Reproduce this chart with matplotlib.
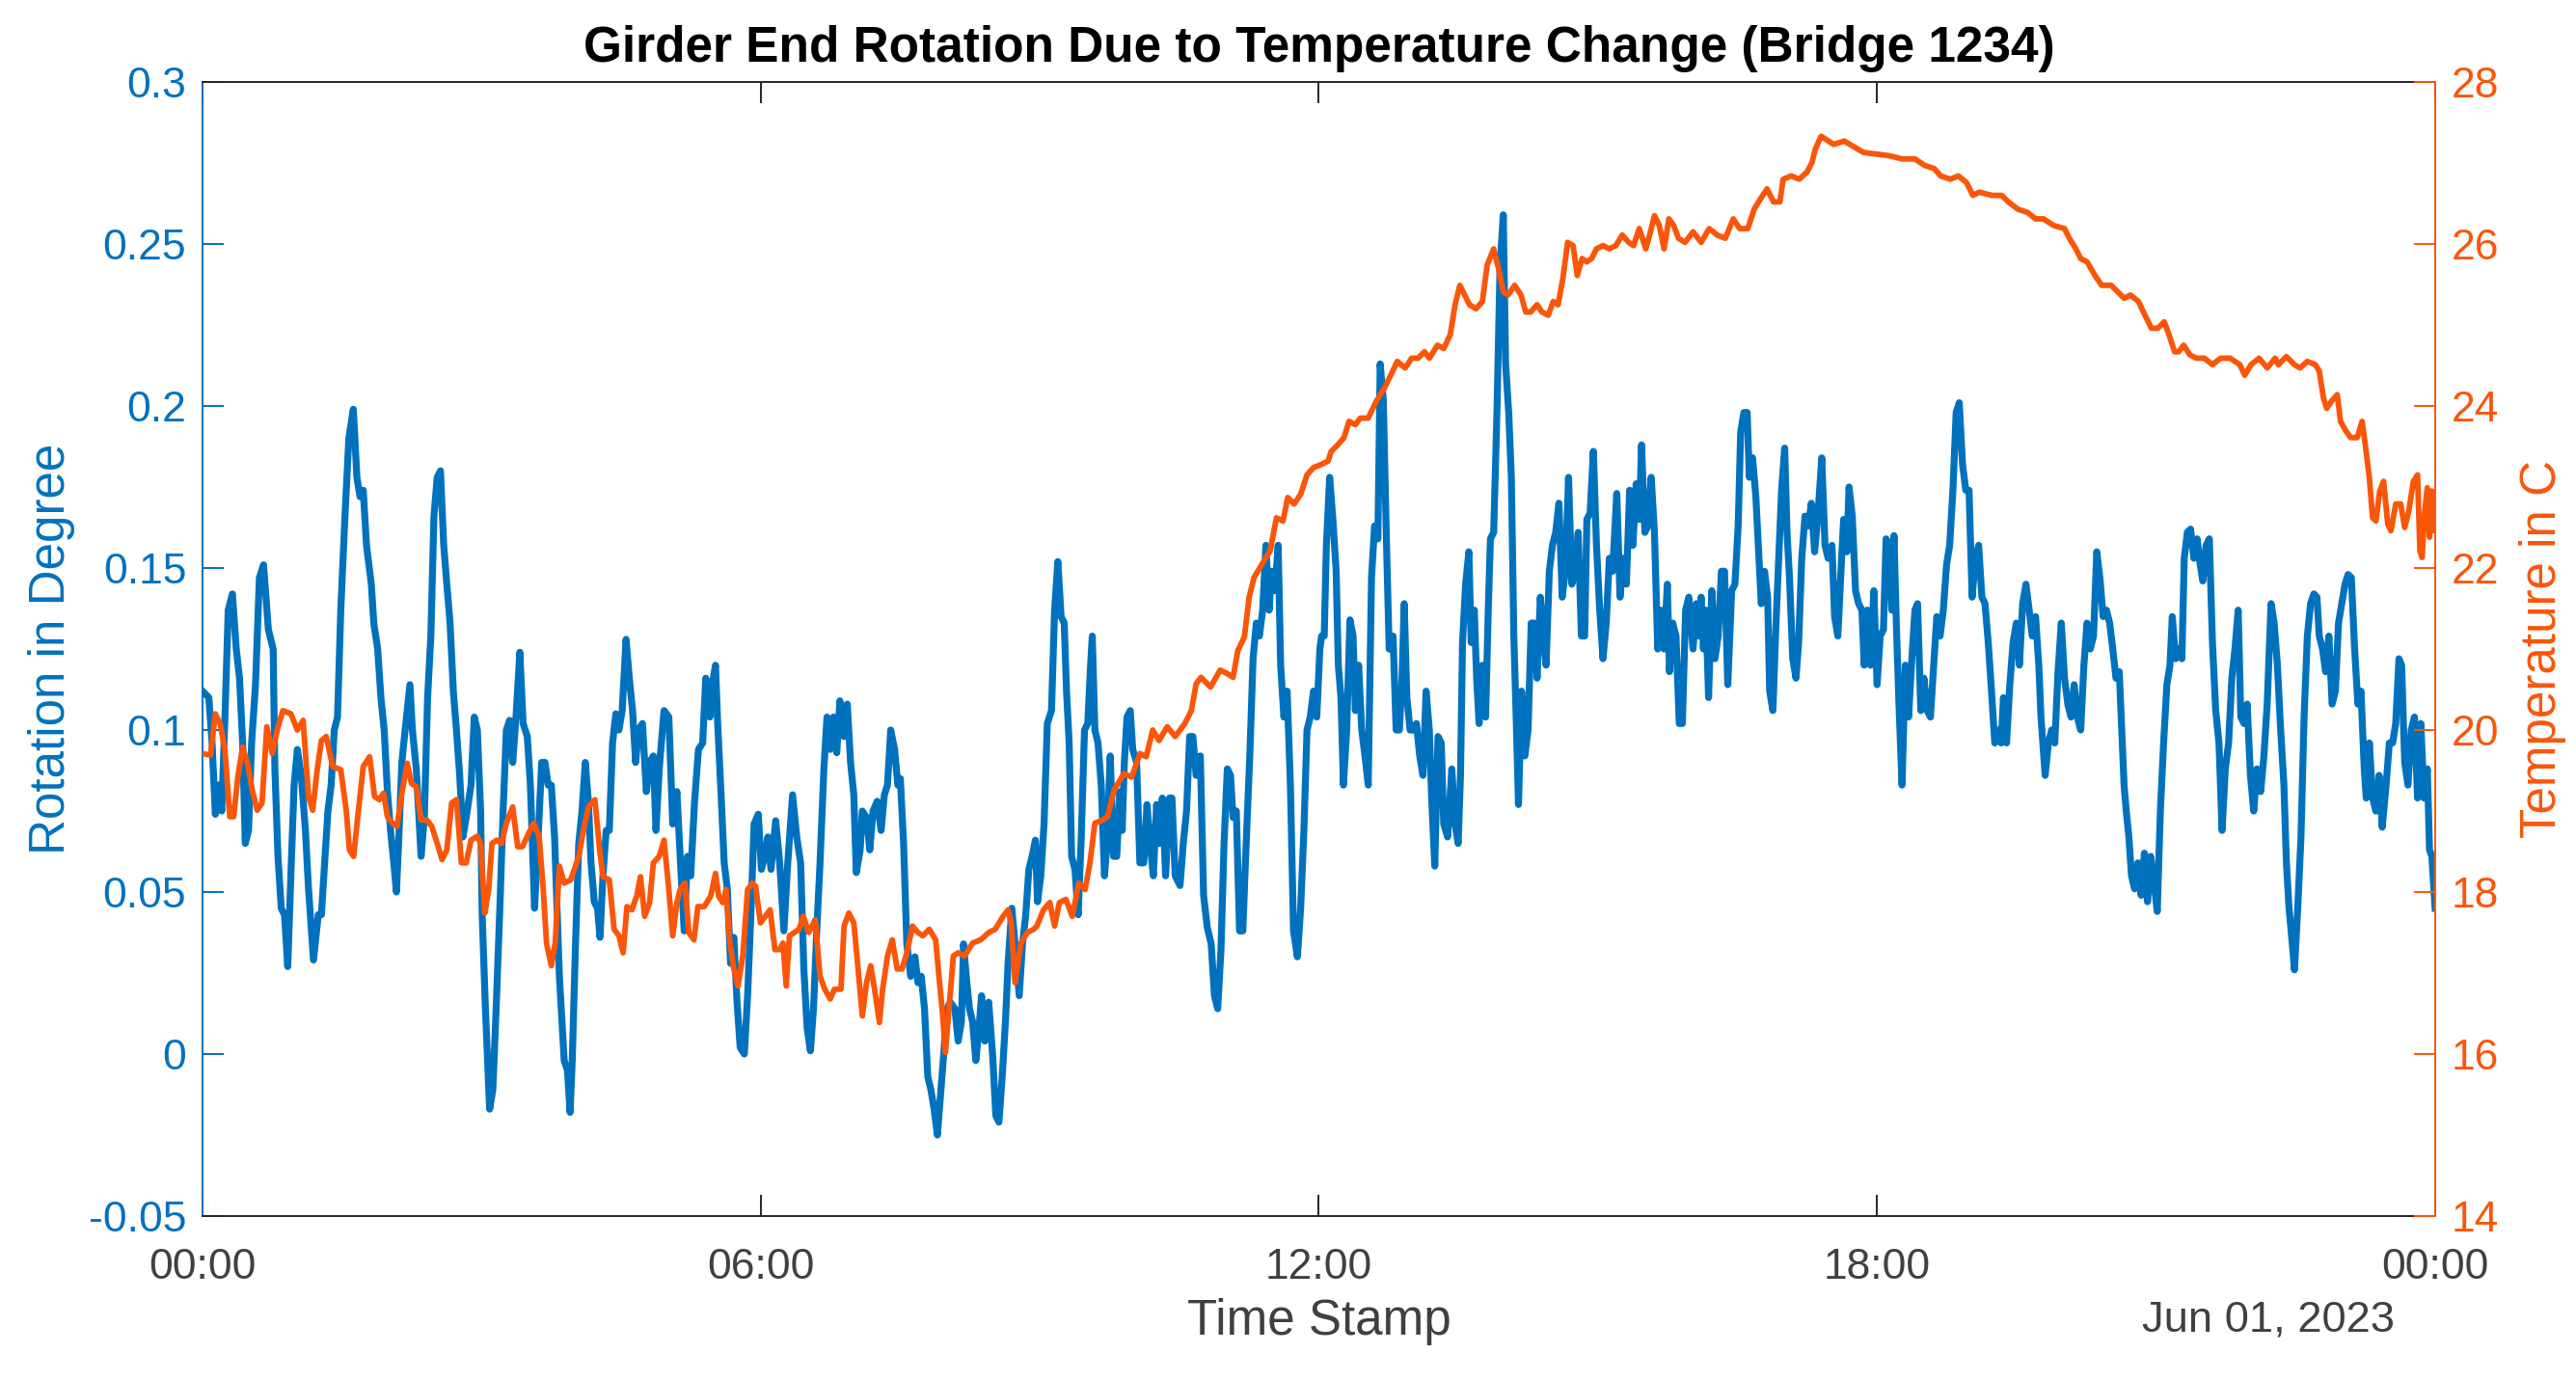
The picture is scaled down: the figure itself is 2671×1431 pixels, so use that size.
import matplotlib
matplotlib.use("Agg")
import matplotlib.pyplot as plt
import matplotlib.dates as mdates
import pandas as pd

plt.rcParams['font.family'] = ['Liberation Sans', 'DejaVu Sans']

# Rotation readings (minutes after midnight, degrees)
rot_minutes = [
    0, 4.1, 6.2, 8.3, 10.4, 12.4, 14.5, 16.6, 19.3, 21.8,
    23.9, 25.9, 27.6, 29.7, 31.7, 34.2, 36.7, 39.4, 42.5, 45.6,
    46.7, 48.7, 50.8, 52.9, 55.0, 57.0, 59.1, 61.2, 63.7, 66.4,
    68.4, 71.6, 74.7, 76.7, 78.8, 80.9, 83.0, 85.0, 87.1, 89.2,
    91.9, 94.4, 97.3, 99.6, 101.6, 103.7, 105.8, 108.9, 110.5, 113.0,
    115.1, 117.2, 119.3, 121.3, 123.4, 125.1, 126.5, 128.6, 130.7, 133.8,
    135.4, 137.9, 141.0, 143.1, 145.2, 147.3, 149.3, 151.4, 153.5, 155.6,
    157.6, 159.7, 161.8, 163.8, 165.9, 168.0, 170.1, 173.2, 175.3, 177.3,
    179.4, 180.4, 182.5, 185.2, 187.3, 189.4, 191.8, 193.9, 196.0, 198.1,
    200.1, 202.2, 204.7, 206.8, 209.5, 211.5, 214.2, 216.3, 218.8, 220.9,
    223.0, 225.0, 227.1, 230.2, 233.3, 235.4, 237.1, 238.5, 240.6, 242.7,
    244.8, 246.9, 248.9, 250.6, 252.7, 254.8, 256.4, 258.3, 260.4, 262.4,
    264.5, 266.6, 268.6, 270.7, 273.2, 275.3, 277.4, 279.4, 281.1, 283.8,
    286.3, 288.4, 290.8, 292.5, 294.6, 297.7, 300.8, 303.3, 306.0, 308.1,
    310.7, 312.8, 314.9, 317.4, 319.9, 322.6, 324.6, 327.3, 328.8, 330.9,
    332.3, 334.4, 336.5, 338.5, 340.6, 342.7, 344.8, 346.8, 349.5, 351.6,
    353.7, 355.8, 358.5, 360.5, 362.6, 364.7, 366.7, 369.7, 372.3, 375.0,
    377.5, 380.6, 383.3, 385.8, 387.9, 390.0, 392.1, 394.1, 396.2, 398.3,
    400.8, 402.8, 404.9, 407.0, 409.1, 411.1, 413.8, 415.9, 418.0, 420.1,
    421.7, 424.2, 425.6, 428.3, 430.4, 432.5, 435.2, 437.7, 439.8, 441.8,
    443.9, 446.4, 448.5, 450.1, 452.2, 454.3, 456.8, 459.5, 461.5, 463.6,
    465.7, 467.8, 469.8, 471.9, 474.0, 476.0, 478.1, 480.2, 482.3,
    485.3, 487.4, 489.5, 490.9, 492.6, 494.7, 496.7, 498.8, 500.5, 502.5,
    504.6, 507.1, 509.6, 511.7, 513.7, 515.8, 517.9, 519.6, 522.0, 524.1,
    526.8, 528.9, 531.0, 533.0, 535.1, 537.2, 538.6, 540.7, 542.8, 544.9,
    547.6, 549.6, 551.7, 553.8, 555.8, 557.3, 559.0, 560.6, 562.7, 564.8,
    566.8, 568.9, 571.0, 572.6, 573.9, 575.6, 577.6, 579.7, 581.8, 583.4,
    585.5, 587.6, 589.7, 591.7, 593.2, 594.6, 596.3, 598.4, 600.0, 602.5,
    604.6, 607.1, 609.2, 611.2, 613.3, 615.4, 617.4, 619.1, 621.2, 623.7,
    625.3, 627.4, 630.5, 632.6, 634.7, 636.7, 638.8, 640.9, 643.6, 645.7,
    648.1, 650.6, 652.7, 654.8, 656.9, 658.9, 661.0, 663.1, 664.7, 666.8,
    668.9, 671.0, 673.0, 675.5, 677.6, 679.7, 681.7, 683.8, 685.9, 688.0,
    689.6, 691.7, 693.8, 695.4, 697.5, 699.6, 701.7, 703.7, 706.2, 708.3,
    710.4, 712.4, 714.5, 716.6, 718.7, 720.7, 721.8,
    723.5, 724.9, 727.0, 729.1, 731.2, 732.6, 734.3, 735.9, 738.0, 740.1,
    742.1, 743.6, 745.7, 747.7, 749.8, 751.9, 754.0, 756.0, 758.1, 759.6,
    761.6, 763.7, 765.4, 767.9, 769.9, 772.0, 773.7, 775.1, 776.8, 778.9,
    780.9, 783.0, 785.1, 787.2, 789.2, 791.3, 792.8, 794.8, 796.9, 799.0,
    800.6, 803.1, 805.8, 807.9, 809.9, 811.4, 812.7, 814.7, 816.8, 818.3,
    820.3, 821.8, 823.4, 825.5, 827.6, 829.3, 830.7, 832.8, 834.9, 836.9,
    839.0, 840.5, 842.5, 844.2, 845.8, 847.3, 848.8, 850.8, 852.9, 855.0,
    857.0, 859.1, 860.8, 862.9, 864.9, 866.6, 868.7, 870.7, 872.8, 874.9,
    877.0, 879.0, 881.1, 883.2, 885.3, 887.3, 889.4, 891.5, 892.9, 895.0,
    897.1, 899.1, 901.2, 903.3, 905.4, 907.4, 909.5, 912.2, 914.3, 916.4,
    918.4, 920.5, 922.6, 924.7, 926.7, 928.2, 930.3, 932.3, 934.4, 936.5,
    938.6, 940.6, 942.7, 944.8, 946.2, 948.3, 950.4, 952.5, 954.5, 956.6,
    958.7, 961.4,
    963.5, 965.2, 966.6, 968.1, 969.7, 971.4, 973.5, 975.5, 977.6, 979.7,
    981.7, 983.8, 986.3, 988.4, 990.5, 992.1, 994.2, 996.3, 997.7, 999.8,
    1001.9, 1003.9, 1005.4, 1007.5, 1009.5, 1010.8, 1012.9, 1014.9, 1017.0, 1018.5,
    1020.5, 1022.0, 1023.6, 1025.7, 1027.8, 1029.5, 1031.5, 1033.6, 1035.7, 1037.7,
    1039.8, 1041.9, 1044.4, 1046.5, 1048.5, 1051.0, 1052.7, 1054.8, 1056.8, 1058.5,
    1060.6, 1062.0, 1064.1, 1066.2, 1068.2, 1070.3, 1071.8, 1073.8, 1075.9, 1078.0,
    1080.1, 1082.1, 1084.2, 1085.9, 1087.9, 1089.6, 1091.0, 1092.5, 1094.2, 1096.2,
    1098.3, 1100.4, 1102.5, 1104.5, 1106.2, 1108.3, 1110.3, 1112.4, 1114.5, 1116.6,
    1118.6, 1120.7, 1122.8, 1124.9, 1126.9, 1129.0, 1131.1, 1133.1, 1135.2, 1137.3,
    1139.4, 1141.4, 1143.5, 1145.6, 1147.7, 1149.7, 1151.8, 1153.9, 1156.0, 1158.0,
    1160.1, 1161.6, 1163.6, 1165.7, 1167.8, 1169.9, 1171.9, 1174.0, 1176.1, 1178.2,
    1180.2, 1182.3, 1184.4, 1185.8, 1188.5, 1190.6, 1192.7, 1194.7, 1196.8, 1198.9,
    1201.0,
    1203.1, 1205.2, 1207.2, 1209.3, 1211.4, 1213.5, 1215.5, 1217.6, 1219.7, 1221.8,
    1223.8, 1225.9, 1228.0, 1230.1, 1232.1, 1234.2, 1236.3, 1237.9, 1239.4, 1240.8,
    1242.5, 1244.2, 1246.2, 1248.3, 1250.4, 1252.5, 1254.5, 1256.6, 1258.7, 1260.8,
    1262.8, 1264.9, 1267.0, 1269.0, 1270.5, 1272.6, 1274.6, 1276.7, 1278.2, 1280.2,
    1282.3, 1284.4, 1286.5, 1288.5, 1290.2, 1292.3, 1294.4, 1296.4, 1298.5, 1300.6,
    1302.6, 1304.7, 1306.8, 1308.9, 1310.9, 1313.0, 1314.7, 1316.8, 1318.8, 1320.9,
    1323.0, 1325.1, 1327.5, 1329.6, 1331.7, 1334.2, 1336.2, 1338.3, 1340.4, 1342.5,
    1344.1, 1345.8, 1347.9, 1349.3, 1351.4, 1353.5, 1355.5, 1357.6, 1359.7, 1361.8,
    1363.8, 1365.3, 1367.4, 1369.4, 1371.5, 1373.6, 1375.7, 1377.7, 1379.8, 1381.9,
    1383.9, 1386.0, 1388.1, 1390.2, 1392.2, 1394.3, 1395.6, 1397.6, 1399.7, 1401.8,
    1403.9, 1405.9, 1408.4, 1410.5, 1412.6, 1414.6, 1416.7, 1418.4, 1420.4, 1422.5,
    1424.6, 1426.7, 1428.7, 1430.8, 1432.9, 1435.0, 1436.4, 1437.9, 1440.0,
]
rotation_deg = [
    0.112, 0.110, 0.096, 0.074, 0.083, 0.075, 0.104, 0.137, 0.142, 0.125,
    0.116, 0.096, 0.065, 0.069, 0.096, 0.114, 0.147, 0.151, 0.131, 0.125,
    0.088, 0.061, 0.045, 0.043, 0.027, 0.055, 0.083, 0.094, 0.086, 0.069,
    0.051, 0.029, 0.043, 0.043, 0.059, 0.075, 0.083, 0.100, 0.104, 0.137,
    0.166, 0.190, 0.199, 0.178, 0.172, 0.174, 0.157, 0.145, 0.133, 0.125,
    0.110, 0.100, 0.081, 0.069, 0.059, 0.050, 0.065, 0.090, 0.100, 0.114,
    0.100, 0.088, 0.061, 0.073, 0.110, 0.129, 0.166, 0.178, 0.180, 0.157,
    0.145, 0.133, 0.112, 0.100, 0.086, 0.067, 0.073, 0.083, 0.104, 0.100,
    0.075, 0.043, 0.014, -0.017, -0.011, 0.014, 0.045, 0.075, 0.100, 0.103,
    0.090, 0.104, 0.124, 0.102, 0.098, 0.083, 0.045, 0.065, 0.090, 0.090,
    0.083, 0.083, 0.067, 0.024, -0.002, -0.005, -0.018, -0.002, 0.034, 0.065,
    0.075, 0.090, 0.078, 0.059, 0.047, 0.045, 0.036, 0.055, 0.069, 0.069,
    0.096, 0.105, 0.100, 0.106, 0.128, 0.116, 0.106, 0.090, 0.100, 0.102,
    0.081, 0.090, 0.092, 0.069, 0.088, 0.106, 0.104, 0.071, 0.081, 0.061,
    0.038, 0.061, 0.055, 0.078, 0.094, 0.096, 0.116, 0.104, 0.114, 0.120,
    0.102, 0.081, 0.059, 0.051, 0.028, 0.036, 0.016, 0.002, 0.000, 0.018,
    0.043, 0.071, 0.074, 0.057, 0.061, 0.067, 0.057, 0.072, 0.059, 0.038,
    0.059, 0.080, 0.067, 0.059, 0.026, 0.008, 0.001, 0.014, 0.038, 0.059,
    0.088, 0.104, 0.094, 0.104, 0.093, 0.109, 0.098, 0.108, 0.090, 0.080,
    0.056, 0.063, 0.075, 0.073, 0.063, 0.075, 0.078, 0.069, 0.080, 0.083,
    0.100, 0.094, 0.083, 0.085, 0.065, 0.034, 0.024, 0.030, 0.022, 0.024,
    0.014, -0.007, -0.011, -0.017, -0.025, -0.013, 0.000, 0.014, 0.016,
    0.014, 0.004, 0.010, 0.034, 0.024, 0.014, 0.010, -0.002, 0.006, 0.018,
    0.004, 0.016, 0.000, -0.019, -0.021, -0.007, 0.010, 0.028, 0.045, 0.034,
    0.018, 0.034, 0.043, 0.057, 0.061, 0.066, 0.047, 0.055, 0.071, 0.102,
    0.106, 0.137, 0.152, 0.135, 0.133, 0.112, 0.096, 0.061, 0.057, 0.043,
    0.067, 0.100, 0.102, 0.118, 0.129, 0.100, 0.096, 0.083, 0.055, 0.065,
    0.092, 0.061, 0.061, 0.081, 0.069, 0.090, 0.104, 0.106, 0.094, 0.090,
    0.059, 0.059, 0.077, 0.065, 0.055, 0.077, 0.065, 0.079, 0.055, 0.079,
    0.079, 0.055, 0.052, 0.065, 0.075, 0.098, 0.098, 0.086, 0.092, 0.049,
    0.039, 0.034, 0.018, 0.014, 0.032, 0.065, 0.088, 0.086, 0.073, 0.075,
    0.038, 0.038, 0.063, 0.092, 0.122, 0.133, 0.129, 0.137, 0.157, 0.137,
    0.149, 0.143, 0.157, 0.120, 0.104, 0.112, 0.083, 0.038, 0.030, 0.045,
    0.069, 0.100, 0.104, 0.112, 0.104, 0.125, 0.129,
    0.129, 0.157, 0.178, 0.165, 0.149, 0.120, 0.110, 0.083, 0.100, 0.134,
    0.129, 0.106, 0.120, 0.100, 0.092, 0.083, 0.147, 0.163, 0.159, 0.213,
    0.202, 0.157, 0.125, 0.129, 0.100, 0.100, 0.116, 0.139, 0.110, 0.100,
    0.100, 0.102, 0.092, 0.086, 0.112, 0.100, 0.079, 0.058, 0.098, 0.096,
    0.071, 0.067, 0.088, 0.071, 0.065, 0.086, 0.127, 0.145, 0.155, 0.127,
    0.137, 0.116, 0.102, 0.120, 0.104, 0.137, 0.159, 0.161, 0.198, 0.243,
    0.259, 0.213, 0.198, 0.178, 0.129, 0.104, 0.077, 0.112, 0.092, 0.100,
    0.133, 0.133, 0.116, 0.141, 0.129, 0.120, 0.149, 0.157, 0.161, 0.170,
    0.141, 0.149, 0.178, 0.145, 0.149, 0.161, 0.129, 0.129, 0.165, 0.167,
    0.186, 0.157, 0.137, 0.122, 0.133, 0.153, 0.149, 0.173, 0.141, 0.153,
    0.145, 0.174, 0.157, 0.176, 0.165, 0.188, 0.161, 0.163, 0.178, 0.161,
    0.125, 0.137, 0.125, 0.145, 0.118, 0.133, 0.129, 0.102, 0.102, 0.137,
    0.141, 0.125,
    0.139, 0.129, 0.141, 0.125, 0.137, 0.110, 0.143, 0.122, 0.129, 0.149,
    0.149, 0.114, 0.143, 0.145, 0.163, 0.192, 0.198, 0.198, 0.178, 0.184,
    0.172, 0.153, 0.139, 0.149, 0.141, 0.112, 0.106, 0.133, 0.157, 0.174,
    0.187, 0.161, 0.147, 0.122, 0.116, 0.127, 0.153, 0.166, 0.163, 0.170,
    0.155, 0.166, 0.184, 0.157, 0.153, 0.157, 0.135, 0.129, 0.149, 0.165,
    0.155, 0.175, 0.166, 0.143, 0.139, 0.137, 0.120, 0.137, 0.120, 0.143,
    0.114, 0.129, 0.131, 0.159, 0.157, 0.137, 0.160, 0.133, 0.108, 0.083,
    0.120, 0.104, 0.122, 0.137, 0.139, 0.106, 0.116, 0.106, 0.104, 0.120,
    0.135, 0.129, 0.137, 0.151, 0.157, 0.174, 0.198, 0.201, 0.182, 0.174,
    0.174, 0.141, 0.153, 0.157, 0.141, 0.139, 0.127, 0.112, 0.096, 0.100,
    0.096, 0.110, 0.096, 0.114, 0.127, 0.133, 0.120, 0.139, 0.145, 0.137,
    0.129, 0.135, 0.120, 0.104, 0.086, 0.096, 0.100, 0.096, 0.118, 0.133,
    0.116,
    0.108, 0.104, 0.114, 0.104, 0.100, 0.120, 0.133, 0.125, 0.129, 0.155,
    0.147, 0.135, 0.137, 0.133, 0.125, 0.116, 0.118, 0.100, 0.083, 0.075,
    0.067, 0.055, 0.051, 0.059, 0.049, 0.062, 0.047, 0.061, 0.053, 0.044,
    0.075, 0.096, 0.114, 0.120, 0.135, 0.122, 0.125, 0.122, 0.153, 0.161,
    0.162, 0.153, 0.159, 0.151, 0.146, 0.157, 0.159, 0.127, 0.106, 0.096,
    0.069, 0.088, 0.096, 0.116, 0.125, 0.137, 0.104, 0.102, 0.108, 0.086,
    0.075, 0.088, 0.081, 0.092, 0.108, 0.139, 0.133, 0.120, 0.100, 0.083,
    0.059, 0.045, 0.034, 0.026, 0.045, 0.067, 0.104, 0.129, 0.139, 0.142,
    0.141, 0.129, 0.125, 0.118, 0.129, 0.108, 0.112, 0.133, 0.139, 0.145,
    0.148, 0.147, 0.125, 0.108, 0.112, 0.088, 0.079, 0.096, 0.079, 0.075,
    0.086, 0.070, 0.083, 0.096, 0.096, 0.102, 0.122, 0.120, 0.090, 0.083,
    0.100, 0.104, 0.079, 0.102, 0.079, 0.088, 0.063, 0.061, 0.045,
]

# Temperature readings (minutes after midnight, deg C)
temp_minutes = [
    0, 5.2, 8.3, 11.4, 14.5, 17.6, 20.1, 22.8, 25.9, 29.0,
    32.1, 35.3, 38.4, 41.5, 45.0, 48.7, 51.9, 57.0, 61.2, 64.9,
    68.4, 71.1, 74.0, 76.7, 79.8, 84.0, 89.2, 92.7, 94.8, 97.5,
    100.6, 103.7, 107.8, 111.0, 114.1, 116.8, 119.3, 122.4, 125.5, 128.6,
    132.1, 134.8, 137.9, 141.0, 144.6, 147.9, 151.4, 154.5, 157.6, 160.7,
    163.8, 167.0, 170.1, 173.2, 177.3, 179.4, 182.1, 184.6, 186.7, 189.8,
    192.9, 196.0, 200.1, 203.3, 206.4, 209.5, 213.6, 217.1, 219.8, 221.9,
    225.0, 227.5, 230.2, 233.3, 237.5, 242.7,
    245.8, 248.9, 253.1, 256.2, 258.3, 262.4, 265.5, 268.6, 271.3, 273.8,
    276.9, 280.1, 282.5, 285.2, 288.4, 290.8, 294.6, 297.7, 300.8, 303.3,
    306.0, 308.1, 311.2, 313.7, 317.0, 319.5, 323.6, 327.8, 330.9, 332.9,
    335.6, 337.7, 340.2, 342.7, 345.4, 348.5, 351.6, 354.7, 356.8, 359.9,
    363.0, 366.1, 369.2, 372.3, 374.4, 376.5, 378.6, 381.7, 384.8, 387.5,
    391.0, 395.2, 398.3, 401.4, 404.9, 407.6, 411.8, 413.8, 416.9, 420.1,
    422.1, 425.6, 428.3, 431.0, 433.5, 436.6, 438.7, 441.8, 444.9, 448.1,
    451.2, 454.3, 458.0, 461.5, 464.6, 468.8, 472.9, 475.0, 477.1, 479.2,
    484.3, 487.4, 491.6, 496.7, 501.9, 507.1, 511.3, 516.4, 519.6, 521.6,
    524.1, 527.9, 532.0, 536.1, 538.2, 542.4, 546.5, 549.6, 552.7, 556.9,
    561.0, 565.2, 569.3, 572.4, 575.6, 580.7, 583.8, 588.0, 594.2, 599.4,
    604.6, 608.7, 612.9, 617.0, 622.2, 627.4, 633.6, 637.8, 640.9, 644.0,
    650.2, 656.4, 661.6, 664.7, 667.8, 672.0, 675.1, 678.2, 683.4, 688.6,
    692.7, 696.9, 700.0, 704.1, 708.3, 712.4, 716.6, 721.8,
    726.0, 728.0, 732.2, 736.3, 739.5, 743.6, 746.7, 751.9, 757.1, 762.3,
    766.4, 770.6, 775.7, 779.9, 784.0, 788.2, 791.3, 796.5, 800.6, 804.8,
    807.9, 811.0, 814.1, 817.2, 821.4, 825.5, 828.6, 832.8, 835.9, 839.0,
    842.1, 846.3, 850.4, 853.5, 856.6, 860.8, 863.9, 868.0, 871.2, 874.3,
    877.4, 880.5, 884.0, 886.7, 889.8, 892.9, 896.0, 899.1, 903.3, 907.4,
    911.6, 915.7, 919.9, 923.0, 926.7, 930.9, 933.4, 936.5, 939.6, 942.7,
    945.8, 948.9, 952.0, 956.2, 961.4,
    966.6, 971.8, 977.0, 982.2, 987.3, 991.5, 996.7, 1000.8, 1005.0, 1009.1,
    1013.3, 1017.4, 1019.5, 1024.7, 1029.9, 1035.0, 1038.2, 1040.2, 1044.0, 1052.0,
    1059.0, 1071.3, 1079.6, 1087.9, 1096.2, 1104.5, 1110.8, 1117.0, 1121.1, 1127.3,
    1132.5, 1137.7, 1141.9, 1146.0, 1154.3, 1160.5, 1164.7, 1170.9, 1177.1, 1182.3,
    1187.5, 1193.7,
    1201.0, 1204.1, 1208.3, 1211.4, 1215.5, 1220.7, 1224.9, 1231.1, 1237.3, 1239.4,
    1243.5, 1248.7, 1252.9, 1257.0, 1261.2, 1265.3, 1268.4, 1272.0, 1274.6, 1277.8,
    1281.9, 1286.1, 1291.2, 1296.4, 1301.6, 1307.8, 1314.1, 1317.2, 1321.3, 1326.5,
    1331.7, 1336.9, 1338.9, 1344.1, 1349.3, 1352.8, 1357.6, 1362.8, 1365.3, 1368.0,
    1370.1, 1373.2, 1376.9, 1379.0, 1382.5, 1385.6, 1389.8, 1392.9, 1395.0, 1397.6,
    1399.7, 1401.8, 1404.3, 1406.8, 1409.5, 1411.5, 1414.6, 1417.8, 1420.4, 1423.0,
    1426.0, 1428.7, 1430.2, 1431.6, 1433.3, 1435.0, 1436.4, 1437.9, 1439.1, 1440.0,
]
temperature_c = [
    19.71, 19.69, 20.20, 20.08, 19.75, 18.93, 18.93, 19.42, 19.79, 19.59,
    19.26, 19.01, 19.10, 20.04, 19.71, 20.04, 20.24, 20.20, 20.00, 20.12,
    19.18, 19.01, 19.51, 19.87, 19.92, 19.55, 19.51, 19.01, 18.52, 18.44,
    19.01, 19.55, 19.67, 19.18, 19.14, 19.22, 18.93, 18.85, 18.81, 19.22,
    19.59, 19.34, 19.30, 18.89, 18.89, 18.81, 18.60, 18.40, 18.52, 19.10,
    19.14, 18.36, 18.36, 18.64, 18.69, 18.60, 17.74, 18.03, 18.60, 18.64,
    18.60, 18.85, 19.05, 18.56, 18.56, 18.69, 18.85, 18.69, 18.03, 17.37,
    17.09, 17.37, 18.32, 18.11, 18.15, 18.44,
    18.77, 19.05, 19.14, 18.52, 18.19, 18.15, 17.54, 17.46, 17.25, 17.82,
    17.78, 17.95, 18.19, 17.70, 17.87, 18.36, 18.44, 18.64, 18.03, 17.46,
    17.87, 18.03, 18.11, 17.50, 17.41, 17.82, 17.82, 17.95, 18.23, 17.95,
    17.87, 18.03, 17.37, 17.05, 16.84, 17.21, 18.03, 18.11, 18.07, 17.62,
    17.70, 17.78, 17.29, 17.29, 17.37, 16.84, 17.46, 17.50, 17.54, 17.70,
    17.50, 17.66, 16.96, 16.80, 16.68, 16.80, 16.80, 17.58, 17.74, 17.62,
    17.21, 16.47, 16.88, 17.09, 16.80, 16.39, 16.80, 17.21, 17.41, 17.05,
    17.05, 17.25, 17.58, 17.50, 17.46, 17.54, 17.41, 16.96, 16.55, 16.02,
    17.21, 17.25, 17.21, 17.37, 17.41, 17.50, 17.54, 17.70, 17.78, 17.62,
    16.88, 17.37, 17.50, 17.54, 17.58, 17.78, 17.87, 17.58, 17.87, 17.91,
    17.70, 18.11, 18.03, 18.36, 18.85, 18.89, 18.93, 19.26, 19.46, 19.42,
    19.71, 19.67, 20.00, 19.87, 20.04, 19.92, 20.08, 20.24, 20.57, 20.65,
    20.53, 20.74, 20.69, 20.65, 20.98, 21.15, 21.64, 21.88, 22.05, 22.21,
    22.62, 22.58, 22.87, 22.79, 22.91, 23.15, 23.24, 23.28,
    23.32, 23.44, 23.52, 23.61, 23.81, 23.77, 23.85, 23.85, 24.06, 24.22,
    24.38, 24.55, 24.47, 24.59, 24.59, 24.67, 24.59, 24.75, 24.71, 24.88,
    25.25, 25.49, 25.37, 25.25, 25.20, 25.29, 25.74, 25.94, 25.70, 25.41,
    25.37, 25.49, 25.37, 25.16, 25.16, 25.25, 25.16, 25.12, 25.29, 25.25,
    25.57, 26.02, 25.98, 25.61, 25.82, 25.78, 25.82, 25.94, 25.98, 25.94,
    25.98, 26.11, 26.02, 25.98, 26.19, 25.94, 26.11, 26.35, 26.23, 25.94,
    26.31, 26.23, 26.07, 26.02, 26.15,
    26.02, 26.19, 26.11, 26.07, 26.31, 26.19, 26.19, 26.43, 26.56, 26.68,
    26.52, 26.52, 26.80, 26.84, 26.80, 26.89, 27.01, 27.17, 27.33, 27.23,
    27.27, 27.13, 27.11, 27.09, 27.05, 27.05, 26.97, 26.93, 26.84, 26.80,
    26.84, 26.76, 26.60, 26.64, 26.60, 26.60, 26.52, 26.43, 26.39, 26.31,
    26.31, 26.23,
    26.19, 26.07, 25.94, 25.82, 25.78, 25.61, 25.49, 25.49, 25.37, 25.33,
    25.37, 25.29, 25.12, 24.96, 24.96, 25.04, 24.88, 24.67, 24.67, 24.75,
    24.63, 24.59, 24.59, 24.51, 24.59, 24.59, 24.51, 24.38, 24.51, 24.59,
    24.47, 24.59, 24.51, 24.61, 24.51, 24.47, 24.55, 24.51, 24.43, 24.10,
    23.97, 24.06, 24.14, 23.81, 23.69, 23.61, 23.61, 23.81, 23.52, 23.11,
    22.62, 22.58, 22.95, 23.07, 22.54, 22.46, 22.79, 22.79, 22.50, 22.70,
    23.07, 23.15, 22.21, 22.13, 22.70, 22.99, 22.38, 22.95, 22.46, 22.87,
]

rot_ticks = [-0.05, 0, 0.05, 0.1, 0.15, 0.2, 0.25, 0.3]
rot_labels = ['-0.05', '0', '0.05', '0.1', '0.15', '0.2', '0.25', '0.3']
temp_ticks = [14, 16, 18, 20, 22, 24, 26, 28]

BLUE = '#0072BD'
ORANGE = '#FA560A'
AXC = '#262626'
TXT = '#404040'

day = pd.Timestamp('2023-06-01')
t_rot = day + pd.to_timedelta(rot_minutes, unit='min')
t_temp = day + pd.to_timedelta(temp_minutes, unit='min')

fig = plt.figure(figsize=(13.355, 7.155), dpi=200)
ax = fig.add_axes([0.0786, 0.1188, 0.8667, 0.8218])
ax.plot(t_rot, rotation_deg, color=BLUE, lw=2.6)
ax.set_ylim(-0.05, 0.3)
ax.set_yticks(rot_ticks)
ax.set_yticklabels(rot_labels)

ax2 = ax.twinx()
ax2.plot(t_temp, temperature_c, color=ORANGE, lw=2.1)
ax2.set_ylim(14, 28)
ax2.set_yticks(temp_ticks)

ax.set_xlim(day, day + pd.Timedelta(days=1))
ax.set_xticks([day + pd.Timedelta(hours=h) for h in (0, 6, 12, 18, 24)])
ax.xaxis.set_major_formatter(mdates.DateFormatter('%H:%M'))

# ejes estilo MATLAB
for a in (ax, ax2):
    for s in a.spines.values():
        s.set_linewidth(0.7)
ax.spines['left'].set_color(BLUE)
ax.spines['top'].set_color(AXC)
ax.spines['bottom'].set_color(AXC)
ax.spines['right'].set_visible(False)
ax2.spines['right'].set_color(ORANGE)
for k in ('left', 'top', 'bottom'):
    ax2.spines[k].set_visible(False)

ax.tick_params(axis='x', direction='in', top=True, length=8, width=0.7,
               color=AXC, labelcolor=TXT, labelsize=16, pad=12)
ax.tick_params(axis='y', direction='in', length=8, width=0.7,
               color=BLUE, labelcolor=BLUE, labelsize=16, pad=6)
ax2.tick_params(axis='y', direction='in', length=8, width=0.7,
                color=ORANGE, labelcolor=ORANGE, labelsize=16, pad=6)

ax.set_title('Girder End Rotation Due to Temperature Change (Bridge 1234)',
             fontsize=18.5, fontweight='bold', color='black', pad=7.5)

ax.set_xlabel('Time Stamp', fontsize=18.4, color=TXT)
ax.xaxis.set_label_coords(0.5, -0.0935)
ax.xaxis.label.set_va('center')
ax.text(0.982, -0.0915, 'Jun 01, 2023', transform=ax.transAxes,
        ha='right', va='center', fontsize=16.3, color=TXT)

ax.set_ylabel('Rotation in Degree', fontsize=18.4, color=BLUE)
ax.yaxis.set_label_coords(-0.0674, 0.5)
ax.yaxis.label.set_va('center')
ax2.set_ylabel('Temperature in C', fontsize=18.4, color=ORANGE)
ax2.yaxis.set_label_coords(1.0484, 0.5)
ax2.yaxis.label.set_va('center')

fig.savefig('out.png', dpi=200)
